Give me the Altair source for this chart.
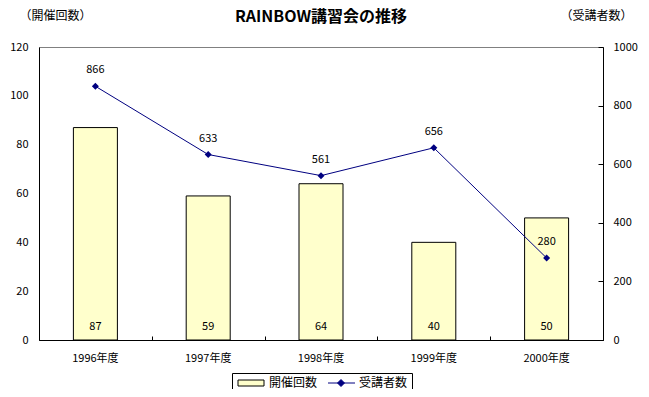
import altair as alt
import pandas as pd

# ---- data ----
years = ["1996年度", "1997年度", "1998年度", "1999年度", "2000年度"]
sessions = [87, 59, 64, 40, 50]          # 開催回数 (left axis)
attendees = [866, 633, 561, 656, 280]    # 受講者数 (right axis)
series_names = ["開催回数", "受講者数"]
left_ticks = [0, 20, 40, 60, 80, 100, 120]
right_ticks = [0, 200, 400, 600, 800, 1000]

df = pd.DataFrame({"year": years, "sessions": sessions, "attendees": attendees})
legend_df = pd.DataFrame({"series": series_names})

FONT = "Noto Sans CJK JP"
BAR_FILL = "#FFFFCC"
LINE_COLOR = "#000080"
W, H = 564, 293

RECT_PATH = "M-0.8,-0.6H4.4V0.6H-0.8Z"
LINE_PATH = "M-0.8,0H4.6M1.8,-0.7L2.5,0L1.8,0.7L1.1,0Z"

legend = alt.Legend(
    title=None, orient="none", legendX=193, legendY=326, direction="horizontal",
    strokeColor="black", padding=4, symbolSize=100, labelOffset=21, columnPadding=8,
    labelFontSize=12, labelFont=FONT, labelColor="black", symbolOpacity=1,
    symbolStrokeWidth=1,
)

left_scale = alt.Scale(domain=[0, 120])
right_scale = alt.Scale(domain=[0, 1000])

x_bottom = alt.X(
    "year:N", sort=years, scale=alt.Scale(paddingInner=0, paddingOuter=0),
    axis=alt.Axis(orient="bottom", title=None, labelAngle=0, ticks=False, labelPadding=12),
)
x_tickaxis = alt.X(
    "year:N", sort=years,
    axis=alt.Axis(orient="top", offset=-H, title=None, labels=False, domain=False,
                  ticks=True, tickSize=4, tickBand="extent"),
)
x_plain = alt.X("year:N", sort=years, axis=None)

y_left = alt.Y(
    "sessions:Q", scale=left_scale,
    axis=alt.Axis(orient="left", values=left_ticks, title="（開催回数）", titleAngle=0,
                  titleX=16, titleY=-32, titleAlign="center", titleBaseline="middle",
                  ticks=False, labelPadding=11),
)
y_right = alt.Y(
    "attendees:Q", scale=right_scale,
    axis=alt.Axis(orient="right", values=right_ticks, format="d", title="（受講者数）",
                  titleAngle=0, titleX=-7, titleY=-32, titleAlign="center",
                  titleBaseline="middle", ticks=False, labelPadding=10),
)
y_right_ticks = alt.Y(
    "attendees:Q", scale=right_scale,
    axis=alt.Axis(orient="left", offset=-W, values=right_ticks, title=None, labels=False,
                  domain=False, ticks=True, tickSize=5),
)
y_right_plain = alt.Y("attendees:Q", scale=right_scale, axis=None)

base = alt.Chart(df)

bars = base.mark_bar(size=44, stroke="black", strokeWidth=1, fill=BAR_FILL).encode(
    x=x_bottom, y=y_left,
)
bar_text = base.mark_text(dy=-13, font=FONT, fontSize=11, baseline="middle", color="black").encode(
    x=x_plain, y=alt.YDatum(0, scale=left_scale, axis=None), text="sessions:Q",
)
line = base.mark_line(strokeWidth=1, color=LINE_COLOR).encode(
    x=x_tickaxis, y=y_right,
)
points = base.mark_point(shape="diamond", filled=True, size=49, opacity=1, color=LINE_COLOR).encode(
    x=x_plain, y=y_right_ticks,
)
line_text = base.mark_text(dy=-16, font=FONT, fontSize=11, baseline="middle", color="black").encode(
    x=x_plain, y=y_right_plain, text="attendees:Q",
)

# invisible layer that only carries the legend (fill / stroke / shape merged)
legend_layer = alt.Chart(legend_df).mark_point(filled=True, opacity=0, strokeWidth=1).encode(
    fill=alt.Fill("series:N", scale=alt.Scale(domain=series_names, range=[BAR_FILL, LINE_COLOR]), legend=legend),
    stroke=alt.Stroke("series:N", scale=alt.Scale(domain=series_names, range=["black", LINE_COLOR]), legend=legend),
    shape=alt.Shape("series:N", scale=alt.Scale(domain=series_names, range=[RECT_PATH, LINE_PATH]), legend=legend),
)

chart = alt.layer(bars, bar_text, line, points, line_text, legend_layer).resolve_scale(
    y="independent"
).properties(
    width=W, height=H,
    background="white",
    autosize=alt.AutoSizeParams(type="none"),
    padding={"left": 31, "top": 39, "right": 38, "bottom": 49},
    title=alt.TitleParams("RAINBOW講習会の推移", font=FONT, fontSize=16, fontWeight="bold",
                          anchor="middle", frame="group", offset=0, dy=16, color="black"),
).configure_axis(
    labelFont=FONT, titleFont=FONT, labelColor="black", titleColor="black",
    domainColor="black", tickColor="black", labelFontSize=11, titleFontSize=12,
    titleFontWeight="normal", grid=False,
).configure_view(stroke="#808080")

chart.save("out.html", embed_options={"renderer": "svg", "actions": False})
